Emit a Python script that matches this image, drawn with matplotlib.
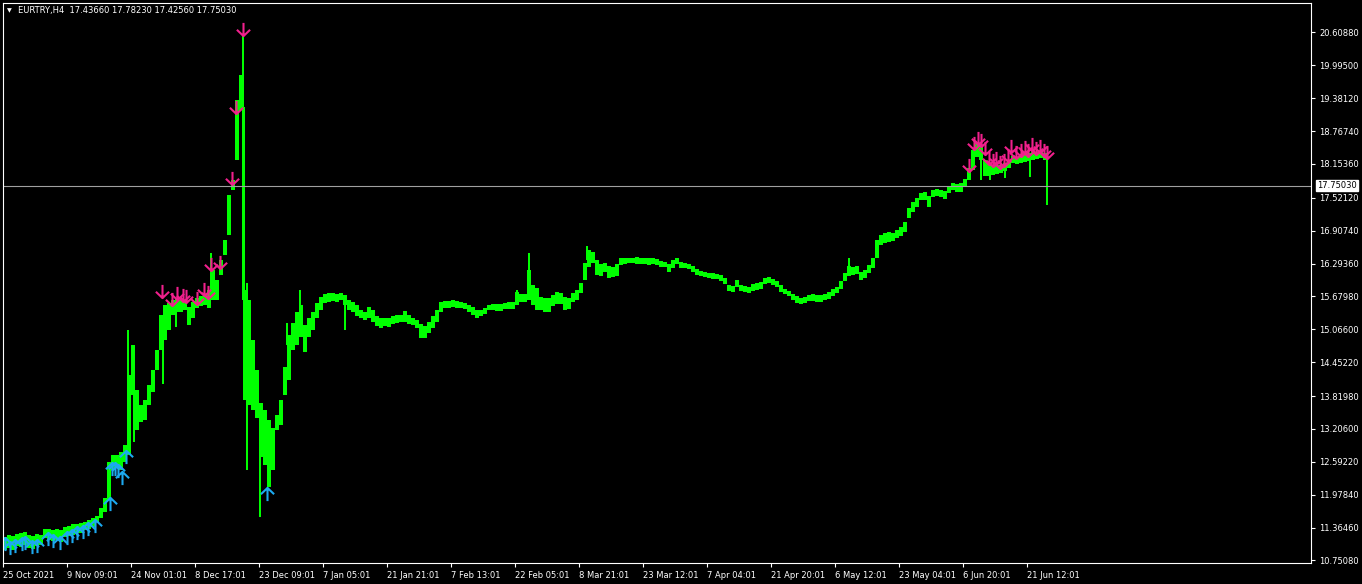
import matplotlib
matplotlib.use("Agg")
import matplotlib.pyplot as plt
from matplotlib.path import Path
import numpy as np

# price band, one value per block of 4 H4 bars
bar_high = [11.19, 11.23, 11.21, 11.25, 11.26, 11.28, 11.23, 11.21, 11.25, 11.23,
            11.34, 11.34, 11.32, 11.34, 11.32, 11.38, 11.39, 11.43, 11.43, 11.45,
            11.47, 11.51, 11.54, 11.58, 11.73, 11.92, 12.59, 12.72, 12.72, 12.78,
            12.91, 14.21, 14.77, 13.93, 13.65, 13.75, 14.03, 14.31, 14.68, 15.33,
            15.52, 15.56, 15.61, 15.65, 15.61, 15.61, 15.48, 15.58, 15.65, 15.69,
            15.73, 15.80, 16.17, 15.99, 16.36, 16.73, 17.57, 17.85, 19.35, 19.82,
            15.80, 15.61, 14.87, 14.31, 13.69, 13.56, 13.37, 13.22, 13.47, 13.75,
            14.36, 14.96, 15.19, 15.39, 15.52, 15.15, 15.28, 15.39, 15.56, 15.67,
            15.73, 15.74, 15.74, 15.73, 15.74, 15.71, 15.61, 15.58, 15.52, 15.43,
            15.39, 15.48, 15.43, 15.32, 15.28, 15.28, 15.28, 15.32, 15.33, 15.33,
            15.41, 15.33, 15.28, 15.24, 15.17, 15.13, 15.20, 15.32, 15.43, 15.58,
            15.60, 15.60, 15.61, 15.60, 15.58, 15.56, 15.52, 15.48, 15.43, 15.43,
            15.47, 15.52, 15.54, 15.54, 15.54, 15.56, 15.58, 15.58, 15.76, 15.73,
            15.73, 16.17, 15.89, 15.84, 15.67, 15.65, 15.65, 15.71, 15.76, 15.74,
            15.67, 15.65, 15.74, 15.80, 15.93, 16.31, 16.55, 16.51, 16.36, 16.29,
            16.31, 16.25, 16.23, 16.29, 16.40, 16.40, 16.40, 16.40, 16.42, 16.40,
            16.40, 16.40, 16.40, 16.38, 16.34, 16.32, 16.29, 16.36, 16.40, 16.32,
            16.31, 16.29, 16.25, 16.19, 16.16, 16.14, 16.12, 16.12, 16.10, 16.08,
            16.03, 15.89, 15.88, 15.99, 15.89, 15.88, 15.86, 15.91, 15.93, 15.95,
            16.03, 16.04, 16.01, 15.97, 15.89, 15.82, 15.78, 15.73, 15.69, 15.65,
            15.67, 15.71, 15.73, 15.71, 15.71, 15.73, 15.76, 15.82, 15.86, 15.97,
            16.12, 16.25, 16.23, 16.25, 16.14, 16.17, 16.27, 16.40, 16.73, 16.83,
            16.87, 16.88, 16.87, 16.92, 16.98, 17.07, 17.33, 17.44, 17.52, 17.61,
            17.63, 17.56, 17.67, 17.69, 17.67, 17.65, 17.74, 17.80, 17.78, 17.80,
            17.87, 18.08, 18.42, 18.55, 18.51, 18.23, 18.17, 18.13, 18.13, 18.13,
            18.17, 18.23, 18.30, 18.28, 18.30, 18.32, 18.36, 18.38, 18.38, 18.40,
            18.36]
bar_low = [10.95, 10.98, 10.95, 11.03, 11.01, 11.04, 10.98, 10.97, 11.03, 11.04,
           11.17, 11.13, 11.12, 11.13, 11.10, 11.19, 11.21, 11.23, 11.26, 11.26,
           11.32, 11.34, 11.38, 11.47, 11.54, 11.66, 11.88, 12.44, 12.48, 12.44,
           12.59, 12.72, 13.84, 13.19, 13.34, 13.37, 13.65, 13.90, 14.31, 14.68,
           14.87, 15.05, 15.33, 15.39, 15.39, 15.43, 15.15, 15.28, 15.47, 15.50,
           15.52, 15.47, 15.61, 15.61, 16.08, 16.45, 16.83, 17.67, 18.23, 19.16,
           13.75, 13.65, 13.56, 13.41, 12.68, 12.53, 12.12, 12.44, 13.19, 13.28,
           13.84, 14.12, 14.68, 14.77, 14.92, 14.64, 14.92, 15.05, 15.28, 15.43,
           15.56, 15.58, 15.60, 15.58, 15.61, 15.52, 15.43, 15.39, 15.32, 15.28,
           15.24, 15.28, 15.20, 15.13, 15.09, 15.13, 15.11, 15.17, 15.19, 15.20,
           15.20, 15.17, 15.15, 15.09, 14.91, 14.91, 15.00, 15.09, 15.20, 15.39,
           15.47, 15.47, 15.48, 15.47, 15.47, 15.45, 15.39, 15.33, 15.28, 15.32,
           15.35, 15.43, 15.43, 15.41, 15.41, 15.45, 15.45, 15.45, 15.52, 15.58,
           15.58, 15.61, 15.52, 15.43, 15.43, 15.39, 15.39, 15.50, 15.54, 15.54,
           15.43, 15.45, 15.58, 15.61, 15.74, 15.99, 16.23, 16.31, 16.08, 16.06,
           16.14, 16.03, 16.04, 16.06, 16.27, 16.29, 16.31, 16.31, 16.29, 16.29,
           16.29, 16.27, 16.29, 16.27, 16.23, 16.23, 16.14, 16.21, 16.29, 16.21,
           16.21, 16.19, 16.14, 16.08, 16.06, 16.04, 16.03, 16.01, 16.01, 15.97,
           15.91, 15.78, 15.76, 15.86, 15.78, 15.76, 15.74, 15.78, 15.80, 15.82,
           15.91, 15.93, 15.89, 15.86, 15.76, 15.73, 15.69, 15.61, 15.56, 15.54,
           15.56, 15.60, 15.60, 15.58, 15.58, 15.61, 15.63, 15.69, 15.74, 15.82,
           15.97, 16.06, 16.08, 16.10, 15.99, 16.03, 16.12, 16.21, 16.40, 16.64,
           16.68, 16.70, 16.72, 16.77, 16.81, 16.88, 17.14, 17.26, 17.35, 17.48,
           17.48, 17.35, 17.54, 17.56, 17.54, 17.50, 17.61, 17.67, 17.63, 17.63,
           17.74, 17.85, 18.04, 18.28, 18.23, 17.93, 17.93, 17.95, 17.97, 17.99,
           18.02, 18.08, 18.17, 18.15, 18.17, 18.19, 18.21, 18.23, 18.25, 18.27,
           18.23]

# single bars that stick out of the band
spike_bar = [125, 131, 160, 173, 208, 240, 241, 244, 257, 284, 297, 342, 514, 526,
             584, 846, 978, 987, 1002, 1027, 1044]
spike_high = [15.05, 13.84, 14.87, 15.52, 16.49, 20.56, 19.22, 15.93, 13.56, 15.19,
              15.80, 15.71, 15.80, 16.49, 16.62, 16.40, 18.42, 18.13, 18.13, 18.26,
              18.36]
spike_low = [14.12, 12.96, 14.05, 15.11, 15.80, 15.61, 14.31, 12.44, 11.56, 14.77,
             15.43, 15.05, 15.61, 15.80, 16.36, 16.17, 17.85, 17.85, 17.89, 17.91,
             17.39]

# signal arrows
sell_bar = [159, 169, 174, 180, 183, 194, 201, 205, 208, 217, 229, 233, 240,
            966, 971, 975, 978, 982, 986, 990, 993, 997, 1001, 1005, 1008, 1013,
            1018, 1022, 1025, 1029, 1033, 1037, 1041, 1044]
sell_price = [15.78, 15.63, 15.74, 15.71, 15.69, 15.65, 15.82, 15.76, 16.29, 16.32,
              17.89, 19.22, 20.67, 18.13, 18.55, 18.64, 18.60, 18.45, 18.27, 18.23,
              18.27, 18.19, 18.23, 18.32, 18.49, 18.38, 18.42, 18.47, 18.42, 18.53,
              18.45, 18.49, 18.42, 18.38]
buy_bar = [2, 7, 12, 19, 22, 29, 34, 45, 50, 57, 64, 69, 74, 80, 85, 92, 107, 109,
           112, 115, 119, 123, 264]
buy_price = [11.06, 10.98, 11.02, 11.06, 11.08, 11.00, 11.02, 11.15, 11.12, 11.08,
             11.17, 11.21, 11.26, 11.28, 11.34, 11.39, 11.81, 12.46, 12.46, 12.42,
             12.29, 12.68, 11.99]

y_ticks = [20.60880, 19.99500, 19.38120, 18.76740, 18.15360, 17.52120, 16.90740,
           16.29360, 15.67980, 15.06600, 14.45220, 13.81980, 13.20600, 12.59220,
           11.97840, 11.36460, 10.75080]
x_labels = ["25 Oct 2021", "9 Nov 09:01", "24 Nov 01:01", "8 Dec 17:01",
            "23 Dec 09:01", "7 Jan 05:01", "21 Jan 21:01", "7 Feb 13:01",
            "22 Feb 05:01", "8 Mar 21:01", "23 Mar 12:01", "7 Apr 04:01",
            "21 Apr 20:01", "6 May 12:01", "23 May 04:01", "6 Jun 20:01",
            "21 Jun 12:01"]
last_price = 17.75030
header = "EURTRY,H4  17.43660 17.78230 17.42560 17.75030"

W, H = 1362, 584
fig = plt.figure(figsize=(W / 100, H / 100), dpi=100, facecolor="black")
ax = fig.add_axes([2.5 / W, (H - 563) / H, (1311 - 2.5) / W, (563 - 3) / H])
ax.set_facecolor("black")

green = "#00FF00"
n = len(bar_high)
xs = np.arange(n) * 4 + 1.5
hi = np.array(bar_high)
lo = np.array(bar_low)
ax.bar(xs, hi - lo, bottom=lo, width=4, color=green, linewidth=0, antialiased=False)
ax.vlines(spike_bar, spike_low, spike_high, color=green, linewidth=1.1,
          antialiased=False)

down_arrow = Path([(0, 0.5), (0, -0.5), (-0.5, -0.02), (0, -0.5), (0.5, -0.02)],
                  [Path.MOVETO, Path.LINETO, Path.MOVETO, Path.LINETO, Path.LINETO])
up_arrow = Path([(0, -0.5), (0, 0.5), (-0.5, 0.02), (0, 0.5), (0.5, 0.02)],
                [Path.MOVETO, Path.LINETO, Path.MOVETO, Path.LINETO, Path.LINETO])
ax.plot(sell_bar, sell_price, linestyle="none", marker=down_arrow, markersize=9.5,
        markerfacecolor="none", markeredgecolor="#F0208C", markeredgewidth=1.5)
ax.plot(buy_bar, buy_price, linestyle="none", marker=up_arrow, markersize=9.5,
        markerfacecolor="none", markeredgecolor="#1CA9F0", markeredgewidth=1.5)

ax.axhline(last_price, color="#A0A0A0", linewidth=0.8)

ax.set_xlim(-0.5, 1308)
ax.set_ylim(10.704, 21.159)

for s in ax.spines.values():
    s.set_color("white")
    s.set_linewidth(0.8)

ax.yaxis.tick_right()
ax.set_yticks(y_ticks)
ax.set_yticklabels([f"{v:.5f}" for v in y_ticks])
ax.tick_params(axis="y", colors="white", direction="out", length=3, width=0.8,
               pad=3, labelsize=6)
ax.set_xticks(np.arange(len(x_labels)) * 64)
ax.set_xticklabels(x_labels, ha="left")
ax.tick_params(axis="x", colors="white", direction="out", length=3, width=0.8,
               pad=3, labelsize=6)

ax.text(1.0045, last_price, f"{last_price:.5f}", transform=ax.get_yaxis_transform(),
        ha="left", va="center", fontsize=6, color="black",
        bbox=dict(boxstyle="square,pad=0.15", facecolor="white", edgecolor="white"))

fig.text(7 / W, 1 - 10.5 / H, "\u25BC", fontsize=4.5, color="white", va="center")
fig.text(18 / W, 1 - 10 / H, header, fontsize=6, color="white", va="center")

fig.savefig("out.png", dpi=100, facecolor="black")
